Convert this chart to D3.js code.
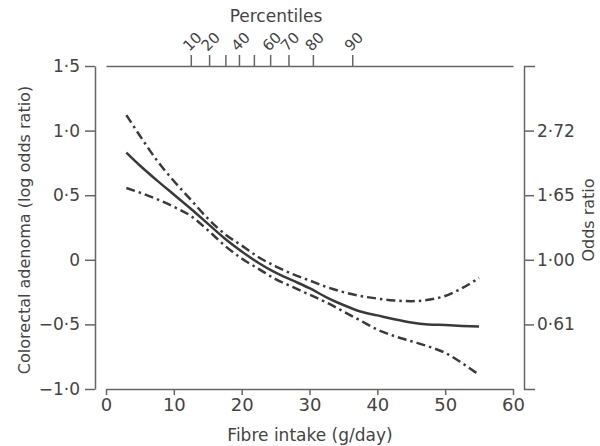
<!DOCTYPE html>
<html>
<head>
<meta charset="utf-8">
<script src="https://cdn.jsdelivr.net/npm/d3@7"></script>
<style>
  body { margin: 0; background: #fff; }
  text { font-family: "DejaVu Sans", sans-serif; fill: #444; }
</style>
</head>
<body>
<div id="chart-area"></div>
<script>
// fibre intake (g/day) and log odds ratio curves
const fibre = [3, 5, 7.5, 10, 12.5, 15, 17.5, 20, 22.5, 25, 27.5, 30, 32.5, 35, 37.5, 40, 42.5, 45, 47.5, 50, 52.5, 55];
const estimate = [0.83, 0.73, 0.615, 0.505, 0.395, 0.28, 0.165, 0.065, -0.025, -0.1, -0.16, -0.22, -0.29, -0.35, -0.4, -0.43, -0.46, -0.485, -0.5, -0.505, -0.512, -0.517];
const upper = [1.12, 0.96, 0.77, 0.61, 0.465, 0.32, 0.2, 0.11, 0.02, -0.05, -0.11, -0.16, -0.21, -0.25, -0.28, -0.3, -0.315, -0.32, -0.31, -0.28, -0.22, -0.14];
const lower = [0.556, 0.52, 0.47, 0.41, 0.34, 0.23, 0.11, 0.01, -0.07, -0.15, -0.21, -0.27, -0.33, -0.4, -0.47, -0.54, -0.59, -0.63, -0.67, -0.72, -0.8, -0.89];

const xTicks = [0, 10, 20, 30, 40, 50, 60];
const yTicks = [1.5, 1.0, 0.5, 0, -0.5, -1.0];
const yLabels = ['1·5', '1·0', '0·5', '0', '−0·5', '−1·0'];
const orTicks = [1.0, 0.5, 0, -0.5];
const orLabels = ['2·72', '1·65', '1·00', '0·61'];
const pctPos = [12.5, 15.2, 17.6, 19.6, 21.8, 24.2, 26.9, 30.5, 36.3];
const pctLabels = ['10', '20', '', '40', '', '60', '70', '80', '90'];

const margin = { left: 106, right: 87, top: 66, bottom: 57 };
const width = 600 - margin.left - margin.right;
const height = 446 - margin.top - margin.bottom;

const svg = d3.select('#chart-area')
    .append('svg')
    .attr('width', 600)
    .attr('height', 446);

const g = svg.append('g')
    .attr('transform', 'translate(' + margin.left + ', ' + margin.top + ')');

const x = d3.scaleLinear().domain([0, 60]).range([0, width]);
const y = d3.scaleLinear().domain([-1, 1.5]).range([height, 0]);

function styleAxis(sel, size) {
    sel.selectAll('path, line').attr('stroke', '#666').attr('stroke-width', 1.5);
    sel.selectAll('text').style('font-size', size + 'px').attr('fill', '#444');
}

// left axis
const leftAx = g.append('g')
    .attr('transform', 'translate(-11, 0)')
    .call(d3.axisLeft(y).tickValues(yTicks).tickSize(10).tickSizeOuter(0).tickPadding(5)
        .tickFormat((d, i) => yLabels[i]));
styleAxis(leftAx, 17);

// right axis (odds ratio)
const rightAx = g.append('g')
    .attr('transform', 'translate(' + (width + 11) + ', 0)')
    .call(d3.axisRight(y).tickValues(orTicks).tickSize(10).tickSizeOuter(11).tickPadding(3)
        .tickFormat((d, i) => orLabels[i]));
styleAxis(rightAx, 17);

// bottom axis
const bottomAx = g.append('g')
    .attr('transform', 'translate(0, ' + height + ')')
    .call(d3.axisBottom(x).tickValues(xTicks).tickSize(6).tickSizeOuter(0).tickPadding(3));
styleAxis(bottomAx, 18);

// top axis (percentiles)
const topAx = g.append('g')
    .call(d3.axisTop(x).tickValues(pctPos).tickSize(11).tickSizeOuter(0)
        .tickFormat((d, i) => pctLabels[i]));
styleAxis(topAx, 15);
topAx.selectAll('text')
    .attr('text-anchor', 'start')
    .attr('dy', null)
    .attr('y', null)
    .attr('transform', 'translate(-2, -14) rotate(-45)');

const line = d3.line()
    .x((d) => x(d[0]))
    .y((d) => y(d[1]))
    .curve(d3.curveMonotoneX);

const series = [
    { vals: upper, dash: '9,4,2.5,4' },
    { vals: lower, dash: '9,4,2.5,4' },
    { vals: estimate, dash: null }
];

series.forEach((s) => {
    g.append('path')
        .datum(fibre.map((f, i) => [f, s.vals[i]]))
        .attr('d', line)
        .attr('fill', 'none')
        .attr('stroke', '#3a3a3a')
        .attr('stroke-width', 2.5)
        .attr('stroke-dasharray', s.dash);
});

// titles
svg.append('text')
    .attr('x', 276).attr('y', 22)
    .attr('text-anchor', 'middle')
    .style('font-size', '17px')
    .text('Percentiles');

svg.append('text')
    .attr('x', 310).attr('y', 441)
    .attr('text-anchor', 'middle')
    .style('font-size', '17px')
    .text('Fibre intake (g/day)');

svg.append('text')
    .attr('transform', 'translate(30, 230) rotate(-90)')
    .attr('text-anchor', 'middle')
    .style('font-size', '16px')
    .text('Colorectal adenoma (log odds ratio)');

svg.append('text')
    .attr('transform', 'translate(594, 220) rotate(-90)')
    .attr('text-anchor', 'middle')
    .style('font-size', '16px')
    .text('Odds ratio');
</script>
</body>
</html>
